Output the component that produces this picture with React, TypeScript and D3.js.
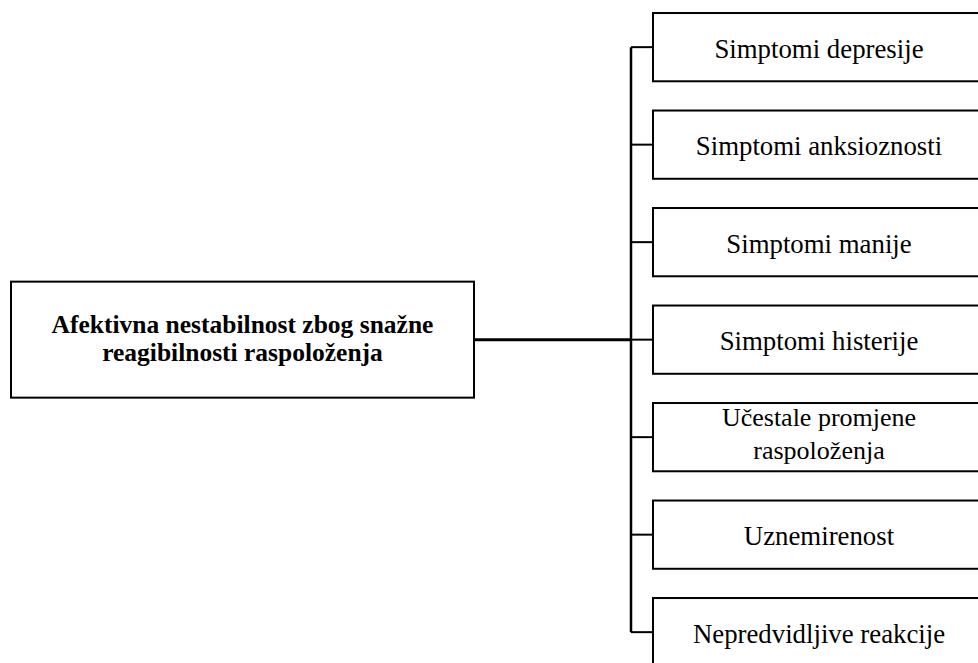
import React from "react";
import * as d3 from "d3";

const rootLines = ["Afektivna nestabilnost zbog snažne", "reagibilnosti raspoloženja"];

const childLabels: string[][] = [
  ["Simptomi depresije"],
  ["Simptomi anksioznosti"],
  ["Simptomi manije"],
  ["Simptomi histerije"],
  ["Učestale promjene", "raspoloženja"],
  ["Uznemirenost"],
  ["Nepredvidljive reakcije"],
];

const W = 978;
const H = 663;

const App = () => {
  const y = d3
    .scaleBand<number>()
    .domain(d3.range(childLabels.length))
    .range([-1.6, 680.9])
    .paddingInner(0.3)
    .paddingOuter(0.15);

  const mid = (i: number) => (y(i) as number) + y.bandwidth() / 2;

  const busX = 631;
  const boxX = 653;
  const boxW = 332;
  const rootX = 11;
  const rootW = 463;
  const rootH = 116;
  const rootMid = mid(3);

  return (
    <svg
      width={W}
      height={H}
      style={{ position: "absolute", left: 0, top: 0, background: "#fff" }}
      fontFamily="'Liberation Serif', 'Times New Roman', serif"
    >
      <rect x={0} y={0} width={W} height={H} fill="#fff" />
      {/* root box */}
      <rect
        x={rootX}
        y={rootMid - rootH / 2}
        width={rootW}
        height={rootH}
        fill="none"
        stroke="#000"
        strokeWidth={2}
      />
      {rootLines.map((t, i) => (
        <text
          key={i}
          x={rootX + rootW / 2}
          y={rootMid + (i - (rootLines.length - 1) / 2) * 28 + 7}
          textAnchor="middle"
          fontWeight="bold"
          fontSize={25.5}
        >
          {t}
        </text>
      ))}
      <line
        x1={rootX + rootW}
        x2={busX}
        y1={rootMid}
        y2={rootMid}
        stroke="#000"
        strokeWidth={3}
      />
      {/* bus */}
      <line
        x1={busX}
        x2={busX}
        y1={mid(0)}
        y2={mid(childLabels.length - 1)}
        stroke="#000"
        strokeWidth={2.5}
      />
      {childLabels.map((lines, i) => (
        <g key={i}>
          <line
            x1={busX}
            x2={boxX}
            y1={mid(i)}
            y2={mid(i)}
            stroke="#000"
            strokeWidth={2}
          />
          <rect
            x={boxX}
            y={y(i)}
            width={boxW}
            height={y.bandwidth()}
            fill="none"
            stroke="#000"
            strokeWidth={2}
          />
          {lines.map((t, j) => (
            <text
              key={j}
              x={boxX + boxW / 2}
              y={mid(i) + (j - (lines.length - 1) / 2) * 33 + (lines.length > 1 ? 5.5 : 10.5)}
              textAnchor="middle"
              fontSize={lines.length > 1 ? 26 : 26.8}
            >
              {t}
            </text>
          ))}
        </g>
      ))}
    </svg>
  );
};

export default App;
